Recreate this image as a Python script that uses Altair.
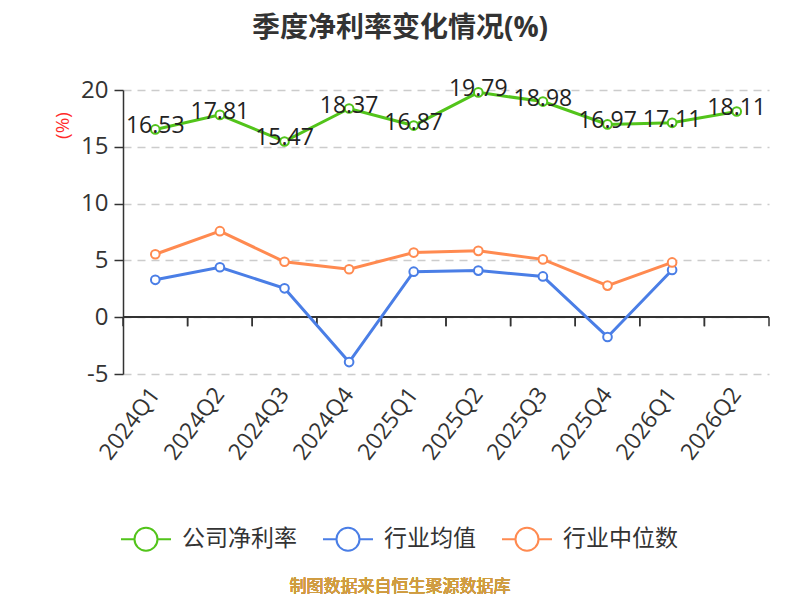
import altair as alt
import pandas as pd

quarters = ["2024Q1", "2024Q2", "2024Q3", "2024Q4", "2025Q1", "2025Q2",
            "2025Q3", "2025Q4", "2026Q1", "2026Q2"]
company = [16.53, 17.81, 15.47, 18.37, 16.87, 19.79, 18.98, 16.97, 17.11, 18.11]
ind_mean = [3.29, 4.40, 2.54, -3.95, 4.01, 4.10, 3.59, -1.74, 4.16]
ind_median = [5.54, 7.57, 4.88, 4.22, 5.69, 5.84, 5.09, 2.78, 4.82]

series_names = ["公司净利率", "行业均值", "行业中位数"]
series_colors = ["#52c41a", "#4a7ee6", "#ff8a50"]

rows = []
for name, vals in zip(series_names, [company, ind_mean, ind_median]):
    for q, v in zip(quarters, vals):
        rows.append({"q": q, "v": v, "s": name})
df = pd.DataFrame(rows)
df_company = df[df["s"] == "公司净利率"]
df_q = pd.DataFrame({"q": quarters})

FONT = "Open Sans, Noto Sans CJK SC, sans-serif"

xscale = alt.Scale(domain=quarters, paddingInner=0, paddingOuter=0)
yscale = alt.Scale(domain=[-5, 20], nice=False, zero=False)
cscale = alt.Scale(domain=series_names, range=series_colors)

legend_symbol = ("M-1,0L-0.46,0M0.46,0L1,0"
                 "M-0.46,0A0.46,0.46,0,1,1,0.46,0A0.46,0.46,0,1,1,-0.46,0Z")

leg = alt.Legend(title=None, orient="none", direction="horizontal",
                 legendX=-3, legendY=423,
                 symbolType=legend_symbol, symbolSize=2500,
                 symbolStrokeWidth=2, symbolFillColor="white",
                 labelFontSize=23, labelColor="#333",
                 labelFont=FONT, labelOffset=10,
                 columnPadding=22)

x_enc = alt.X("q:N", scale=xscale, sort=quarters, title=None,
              axis=alt.Axis(labelAngle=-53, labelAlign="right", labelBaseline="middle",
                            labelFontSize=23, labelColor="#333", labelFont=FONT,
                            labelPadding=16, domain=False, ticks=False, grid=False))
y_enc = alt.Y("v:Q", scale=yscale,
              axis=alt.Axis(values=[-5, 0, 5, 10, 15, 20], title="(%)",
                            labelExpr="datum.value",
                            titleColor="#ff2a2a", titleFontSize=19, titleFont=FONT,
                            titleFontWeight="normal", titleAngle=-90,
                            titleX=-61, titleY=35, titleAlign="center",
                            titleBaseline="middle",
                            labelFontSize=24, labelColor="#333", labelFont=FONT,
                            labelPadding=6, tickSize=9, tickColor="#333",
                            domainColor="#333", domainWidth=1.5, tickWidth=1.5,
                            grid=True, gridColor="#cccccc", gridDash=[8, 6],
                            gridWidth=1.5))

base = alt.Chart(df)

lines = base.mark_line(strokeWidth=3).encode(
    x=x_enc, y=y_enc,
    color=alt.Color("s:N", scale=cscale, legend=leg),
)

points = base.mark_point(filled=True, fill="white", size=75, strokeWidth=2,
                         opacity=1, fillOpacity=1).encode(
    x=alt.X("q:N", scale=xscale, sort=quarters),
    y=alt.Y("v:Q", scale=yscale),
    stroke=alt.Stroke("s:N", scale=cscale, legend=leg),
)

labels = alt.Chart(df_company).mark_text(fontSize=23, color="#222", font=FONT,
                                         baseline="middle", dy=-3).encode(
    x=alt.X("q:N", scale=xscale, sort=quarters),
    y=alt.Y("v:Q", scale=yscale),
    text=alt.Text("v:Q", format=".2f"),
)

zero_line = alt.Chart(df_q).mark_rule(color="#333", strokeWidth=1.5).encode(
    y=alt.datum(0, scale=yscale),
)

ticks_start = alt.Chart(df_q).mark_rule(color="#333", strokeWidth=1.5).encode(
    x=alt.X("q:N", scale=xscale, sort=quarters, bandPosition=0),
    y=alt.datum(0, scale=yscale),
    y2=alt.datum(-0.8),
)
ticks_end = alt.Chart(df_q).mark_rule(color="#333", strokeWidth=1.5).encode(
    x=alt.X("q:N", scale=xscale, sort=quarters, bandPosition=1),
    y=alt.datum(0, scale=yscale),
    y2=alt.datum(-0.8),
)

source = alt.Chart(df_q).mark_text(fontSize=17, color="#d09c40", font=FONT,
                                   fontWeight="normal").encode(
    x=alt.value(277), y=alt.value(497), text=alt.datum("制图数据来自恒生聚源数据库"),
)

chart = alt.layer(zero_line, ticks_start, ticks_end, lines, points, labels, source).properties(
    width=646, height=284,
    padding={"left": 115, "top": 82, "right": 18, "bottom": 226},
    autosize=alt.AutoSizeParams(type="none"),
    title=alt.TitleParams("季度净利率变化情况(%)", fontSize=28, fontWeight="bold",
                          color="#333", font=FONT, anchor="middle", dx=-46,
                          offset=35),
).configure_view(stroke=None)

chart.save("out.html", embed_options={"renderer": "svg", "actions": False})
